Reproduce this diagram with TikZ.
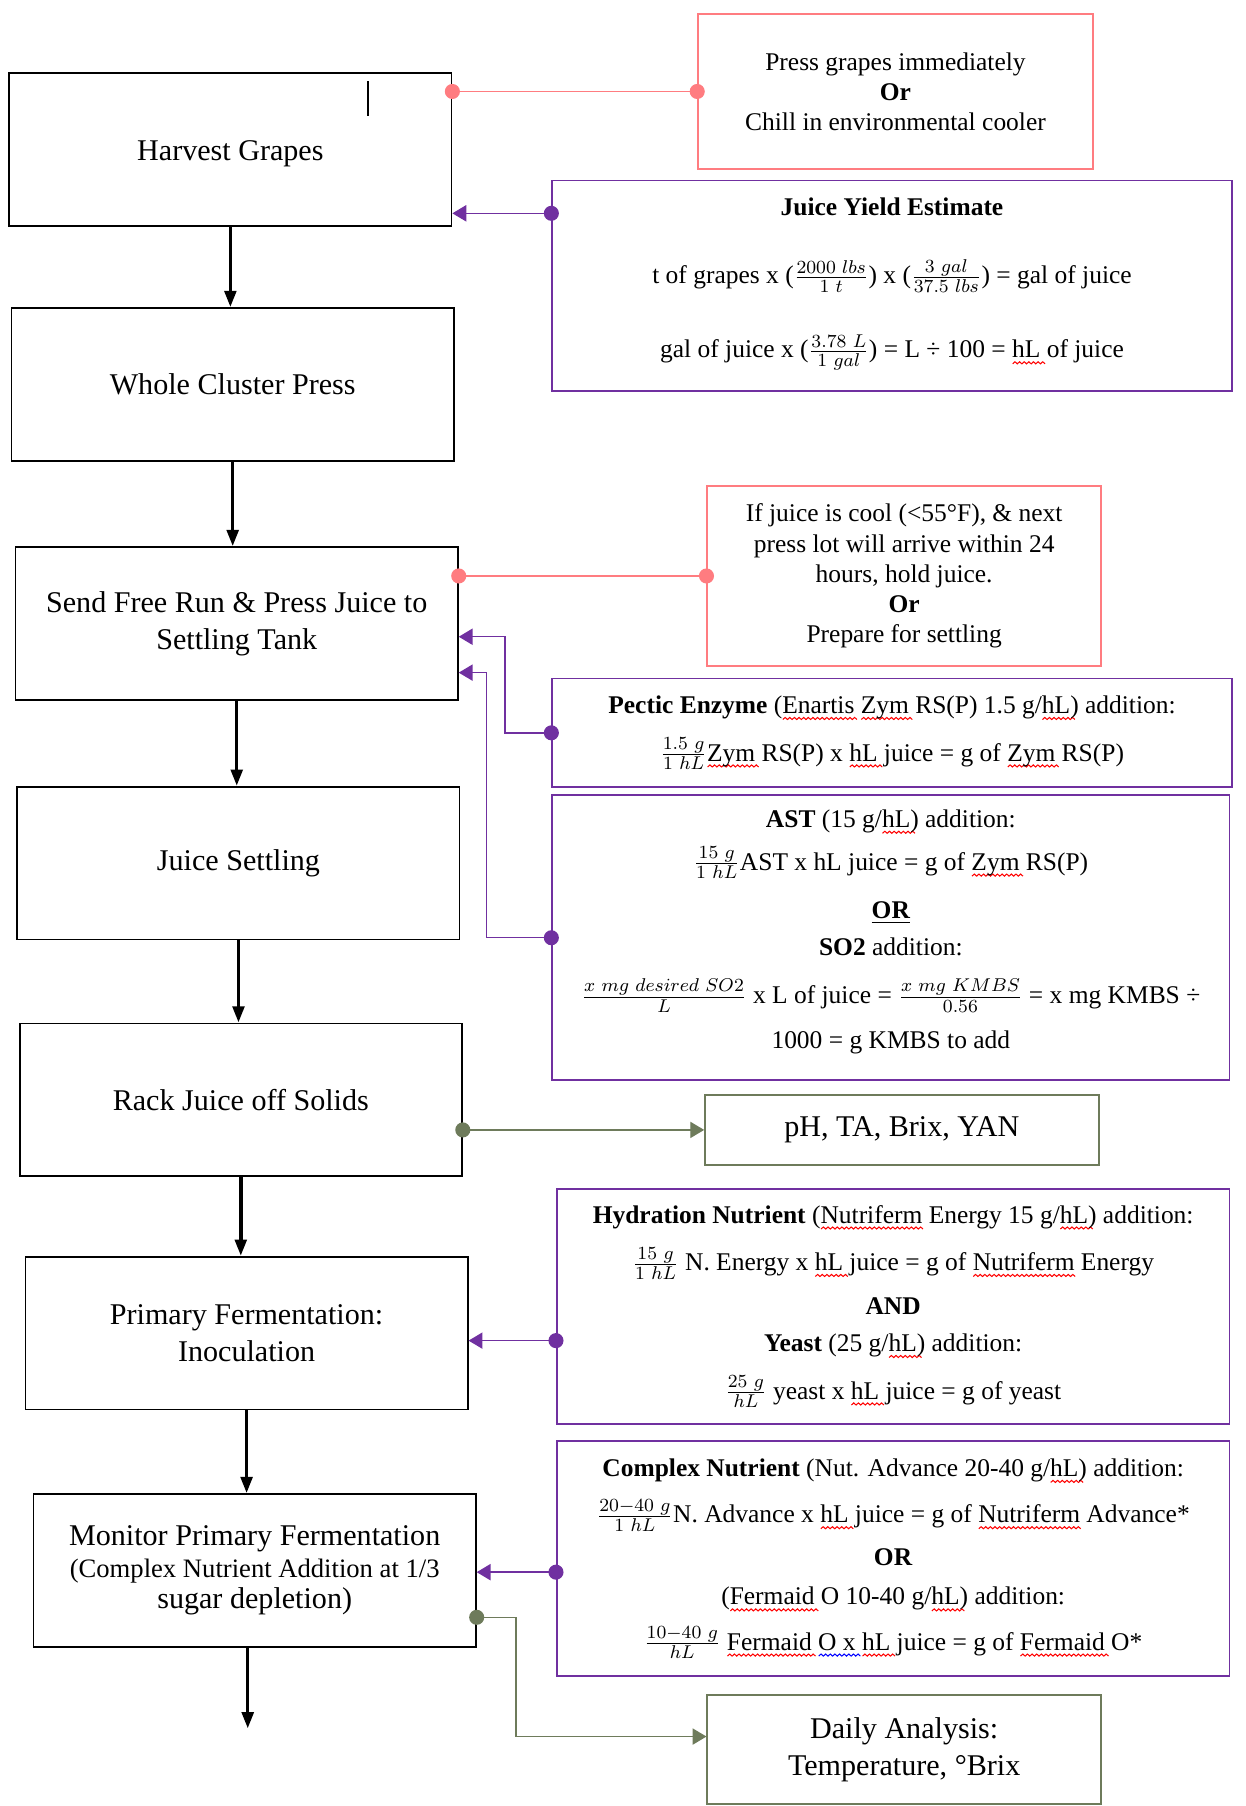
\documentclass[tikz,border=0pt]{standalone}
\usepackage{fontspec}
\setmainfont{Liberation Serif}
\usepackage{xcolor}
\definecolor{Salmon}{HTML}{FF7C80}
\definecolor{Grape}{HTML}{7030A0}
\definecolor{Moss}{HTML}{6E7B5B}
\colorlet{cPink}{Salmon}
\colorlet{cViolet}{Grape}
\colorlet{cGreen}{Moss}
\usetikzlibrary{arrows.meta}
% spell-check marks
\newdimen\wavx
\newdimen\wavw
\newcommand{\wavy}[1]{%
	\begin{pgfpicture}%
	\pgfsetstrokecolor{#1}\pgfsetlinewidth{.45pt}%
	\wavx=0pt
	\pgfpathmoveto{\pgfqpoint{0pt}{0pt}}%
	\loop\ifdim\wavx<\wavw
		\advance\wavx by 1pt
		\pgfpathlineto{\pgfqpoint{\wavx}{.9pt}}%
		\advance\wavx by 1pt
		\pgfpathlineto{\pgfqpoint{\wavx}{0pt}}%
	\repeat
	\pgfusepath{stroke}%
	\end{pgfpicture}}
\newcommand{\spl}[2][red]{\setbox0\hbox{#2}\wavw=\wd0\leavevmode\rlap{\raisebox{-2.8pt}[0pt][0pt]{\wavy{#1}}}\box0\relax}
\tikzset{
	big text/.style={font=\fontsize{13}{16}\selectfont},
	small text/.style={font=\fontsize{11}{13}\selectfont},
	stepbox/.style={
		draw,
		line width=.75pt,
		minimum width=191pt,
		minimum height=66pt,
		align=center,
		big text
	},
	pinkbox/.style={
		draw=cPink,
		line width=.75pt,
		align=center,
		small text
	},
	violetbox/.style={
		draw=cViolet,
		line width=.75pt,
		align=center,
		small text
	},
	greenbox/.style={
		draw=cGreen,
		line width=.75pt,
		align=center,
		big text
	},
	flow/.style={
		-{Triangle[length=7pt,width=5pt]},
		line width=1.5pt
	},
	pinklink/.style={
		draw=cPink,
		line width=.6pt,
		{Circle[length=6.5pt]}-{Circle[length=6.5pt]},
		shorten <=-3.25pt,
		shorten >=-3.25pt
	},
	violetlink/.style={
		draw=cViolet,
		line width=.6pt,
		{Circle[length=6.5pt]}-{Triangle[length=6pt,width=7pt]},
		shorten <=-3.25pt
	},
	greenlink/.style={
		draw=cGreen,
		line width=.6pt,
		{Circle[length=6.5pt]}-{Triangle[length=6pt,width=7pt]},
		shorten <=-3.25pt
	}
}

\begin{document}
\setlength{\lineskiplimit}{-100pt}
\begin{tikzpicture}[x=0.5pt, y=-0.5pt]
\useasboundingbox (0,0) rectangle (1076,1560);

% ---
% main steps
% ---
\node[stepbox, text height=12.6pt] at (199,129) (harvest) {Harvest Grapes};
\node[stepbox] at (201,332) (press) {Whole Cluster Press};
\node[stepbox] at (204.5,538.5) (tank) {Send Free Run \& Press Juice to\\ Settling Tank};
\node[stepbox] at (206,745.5) (settling) {Juice Settling};
\node[stepbox] at (208,950) (rack) {Rack Juice off Solids};
\node[stepbox] at (213,1151.5) (inoc) {Primary Fermentation:\\ Inoculation};
\node[stepbox] at (220,1356.5) (monitor) {Monitor Primary Fermentation\\[-2.5pt] \fontsize{11.5}{13.5}\selectfont (Complex Nutrient Addition at 1/3\\[-2.5pt] sugar depletion)};
\coordinate (next) at (214,1493);
\draw[line width=1pt] (318,70) -- (318,100);

\draw[flow] (harvest.south) -- (harvest.south |- press.north);
\draw[flow] (press.south) -- (press.south |- tank.north);
\draw[flow] (tank.south) -- (tank.south |- settling.north);
\draw[flow] (settling.south) -- (settling.south |- rack.north);
\draw[flow] (rack.south) -- (rack.south |- inoc.north);
\draw[flow] (inoc.south) -- (inoc.south |- monitor.north);
\draw[flow] (monitor.south -| next) -- (next);

% ---
% notes
% ---
\node[pinkbox, minimum width=170.5pt, minimum height=67pt] at (773.5,79) (chill) {Press grapes immediately\\ \textbf{Or}\\ Chill in environmental cooler};
\node[violetbox, minimum width=293.5pt, minimum height=91pt, text depth=7pt] at (770.5,247) (yield) {\textbf{Juice Yield Estimate}\\[16.5pt]
	t of grapes x ($\frac{2000\ lbs}{1\ t}$) x ($\frac{3\ gal}{37.5\ lbs}$) = gal of juice\\[19pt]
	gal of juice x ($\frac{3.78\ L}{1\ gal}$) = L ÷ 100 = \spl{hL} of juice};
\node[pinkbox, minimum width=170pt, minimum height=77.5pt] at (781,497.5) (hold) {If juice is cool (<55°F), \& next\\ press lot will arrive within 24\\ hours, hold juice.\\ \textbf{Or}\\ Prepare for settling};
\node[violetbox, minimum width=293.5pt, minimum height=47pt] at (770.5,633) (pectic) {\textbf{Pectic Enzyme} (\spl{Enartis} \spl{Zym} RS(P) 1.5 g/\spl{hL}) addition:\\[7.5pt]
	$\frac{1.5\ g}{1\ hL}$\spl{Zym} RS(P) x \spl{hL} juice = g of \spl{Zym} RS(P)};
\node[violetbox, minimum width=292.5pt, minimum height=123pt, text depth=7.5pt] at (769.5,810) (ast) {\textbf{AST} (15 g/\spl{hL}) addition:\\[5.5pt]
	$\frac{15\ g}{1\ hL}$AST x hL juice = g of \spl{Zym} RS(P)\\[8pt]
	\textbf{\underline{OR}}\\[3pt]
	\textbf{SO2} addition:\\[7.5pt]
	$\frac{x\ mg\ desired\ SO2}{L}$ x L of juice = $\frac{x\ mg\ KMBS}{0.56}$ = x mg KMBS ÷\\[6.5pt]
	1000 = g KMBS to add};
\node[greenbox, minimum width=170pt, minimum height=30pt] at (779,976) (chem) {pH, TA, Brix, YAN};
\node[violetbox, minimum width=290.5pt, minimum height=101.5pt] at (771.5,1128.5) (hydra) {\textbf{Hydration Nutrient} (\spl{Nutriferm} Energy 15 g/\spl{hL}) addition:\\[7.5pt]
	$\frac{15\ g}{1\ hL}$ N. Energy x \spl{hL} juice = g of \spl{Nutriferm} Energy\\[6pt]
	\textbf{AND}\\[3pt]
	\textbf{Yeast} (25 g/\spl{hL}) addition:\\[7.5pt]
	$\frac{25\ g}{hL}$ yeast x \spl{hL} juice = g of yeast};
\node[violetbox, minimum width=290.5pt, minimum height=101.5pt] at (771.5,1346.5) (cnut) {\textbf{Complex Nutrient} (Nut. Advance 20-40 g/\spl{hL}) addition:\\[7pt]
	$\frac{20-40\ g}{1\ hL}$N. Advance x \spl{hL} juice = g of \spl{Nutriferm} Advance*\\[5.5pt]
	\textbf{OR}\\[4pt]
	(\spl{Fermaid} O 10-40 g/\spl{hL}) addition:\\[6.5pt]
	$\frac{10-40\ g}{hL}$ \spl{Fermaid} \spl[blue]{O x} \spl{hL} juice = g of \spl{Fermaid} O*};
\node[greenbox, minimum width=170pt, minimum height=47pt] at (781,1511) (daily) {Daily Analysis:\\ Temperature, °Brix};

% ---
% links
% ---
\draw[pinklink] (harvest.east |- chill.west) -- (chill.west);
\coordinate (yieldin) at ([yshift=-14.5pt]yield.north west);
\draw[violetlink] (yieldin) -- (harvest.east |- yieldin);
\draw[pinklink] (tank.east |- hold.west) -- (hold.west);
\draw[violetlink] (pectic.west) -- ++(-40,0) |- ([yshift=-5.75pt]tank.east);
\draw[violetlink] (ast.west) -- ++(-56,0) |- ([yshift=-21.25pt]tank.east);
\draw[greenlink] (rack.east |- chem.west) -- (chem.west);
\coordinate (hydrain) at ([yshift=-14.75pt]hydra.west);
\draw[violetlink] (hydrain) -- (inoc.east |- hydrain);
\coordinate (cnutin) at ([yshift=-5.75pt]cnut.west);
\draw[violetlink] (cnutin) -- (monitor.east |- cnutin);
\draw[greenlink] ([yshift=-20.25pt]monitor.east) -- ++(34,0) |- ([yshift=5.5pt]daily.west);
\end{tikzpicture}
\end{document}
